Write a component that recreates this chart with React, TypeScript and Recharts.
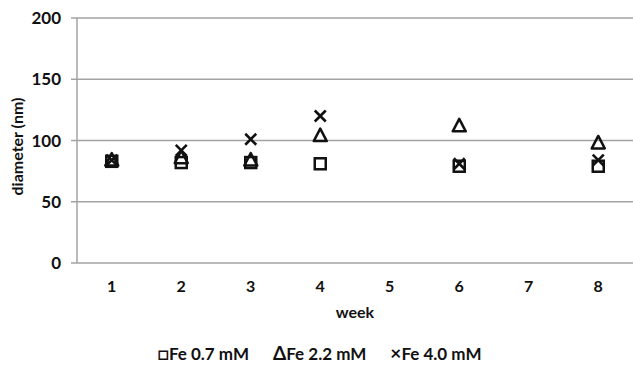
import { ScatterChart, Scatter, XAxis, YAxis, CartesianGrid, Legend } from "recharts"

const WEEKS = [1, 2, 3, 4, 6, 8]
const X_TICKS = [1, 2, 3, 4, 5, 6, 7, 8]
const X_BOUNDS = [0.5, 1.5, 2.5, 3.5, 4.5, 5.5, 6.5, 7.5, 8.5]
const Y_TICKS = [0, 50, 100, 150, 200]

const FE_07 = [83, 82, 82, 81, 79, 79]
const FE_22 = [84, 86, 84, 104, 112, 98]
const FE_40 = [84, 92, 101, 120, 81, 84]

const SERIES = [
  { name: "Fe 0.7 mM", symbol: "□", shape: "square", values: FE_07 },
  { name: "Fe 2.2 mM", symbol: "Δ", shape: "triangle", values: FE_22 },
  { name: "Fe 4.0 mM", symbol: "×", shape: "cross", values: FE_40 },
]

const FONT = "Lato, 'Open Sans', sans-serif"
const GRID = "#a3a3a3"
const INK = "#111"

function Marker({ cx, cy, kind }: { cx?: number; cy?: number; kind: string }) {
  if (cx == null || cy == null) return null
  if (kind === "square") {
    return <rect x={cx - 5.5} y={cy - 5.5} width={11} height={11} fill="none" stroke={INK} strokeWidth={2.5} />
  }
  if (kind === "triangle") {
    return <path d={`M${cx},${cy - 7} L${cx + 6.5},${cy + 5.5} L${cx - 6.5},${cy + 5.5} Z`} fill="none" stroke={INK} strokeWidth={2.5} strokeLinejoin="round" />
  }
  return (
    <path d={`M${cx - 5.5},${cy - 5.5} L${cx + 5.5},${cy + 5.5} M${cx + 5.5},${cy - 5.5} L${cx - 5.5},${cy + 5.5}`} stroke={INK} strokeWidth={2.6} />
  )
}

function YLabel({ viewBox }: any) {
  const cy = viewBox.y + viewBox.height / 2 + 6
  return (
    <text x={16} y={cy} transform={`rotate(-90 16 ${cy})`} textAnchor="middle" dominantBaseline="central"
      fontFamily={FONT} fontSize={16} fontWeight={700} fill={INK}>
      diameter (nm)
    </text>
  )
}

function LegendBox() {
  return (
    <div style={{ display: "flex", justifyContent: "center", gap: 24, fontFamily: FONT, fontSize: 17, fontWeight: 700, color: INK, paddingTop: 18, paddingLeft: 6 }}>
      {SERIES.map((s) => (
        <span key={s.name}><span style={{ fontSize: 19 }}>{s.symbol}</span>{s.name}</span>
      ))}
    </div>
  )
}

export default function App() {
  return (
    <div style={{ position: "absolute", left: 0, top: 0, background: "#fff" }}>
      <ScatterChart width={633} height={369} margin={{ top: 18, right: 0, bottom: 0, left: 0 }}>
        <CartesianGrid vertical={false} stroke={GRID} strokeWidth={1.5} />
        <XAxis
          xAxisId="bounds"
          type="number"
          dataKey="week"
          domain={[0.5, 8.5]}
          ticks={X_BOUNDS}
          tickFormatter={() => ""}
          height={0}
          axisLine={{ stroke: GRID, strokeWidth: 1.5 }}
          tickLine={{ stroke: GRID, strokeWidth: 1.5 }}
          tickSize={6}
        />
        <XAxis
          xAxisId="labels"
          type="number"
          dataKey="week"
          domain={[0.5, 8.5]}
          ticks={X_TICKS}
          height={60}
          axisLine={false}
          tickLine={false}
          tickMargin={12}
          tick={{ fontFamily: FONT, fontSize: 16, fontWeight: 700, fill: INK }}
          label={{ value: "week", position: "insideBottom", offset: 5, fontFamily: FONT, fontSize: 16, fontWeight: 700, fill: INK }}
        />
        <YAxis
          type="number"
          dataKey="d"
          domain={[0, 200]}
          ticks={Y_TICKS}
          width={77}
          axisLine={{ stroke: GRID, strokeWidth: 1.5 }}
          tickLine={{ stroke: GRID, strokeWidth: 1.5 }}
          tickSize={6}
          tickMargin={10}
          tick={{ fontFamily: FONT, fontSize: 17, fontWeight: 700, fill: INK }}
          label={<YLabel />}
        />
        <Legend verticalAlign="bottom" height={46} content={<LegendBox />} />
        {SERIES.map((s) => (
          <Scatter
            key={s.name}
            name={s.name}
            xAxisId="labels"
            data={WEEKS.map((w, i) => ({ week: w, d: s.values[i] }))}
            shape={(p: any) => <Marker cx={p.cx} cy={p.cy} kind={s.shape} />}
            isAnimationActive={false}
          />
        ))}
      </ScatterChart>
    </div>
  )
}
